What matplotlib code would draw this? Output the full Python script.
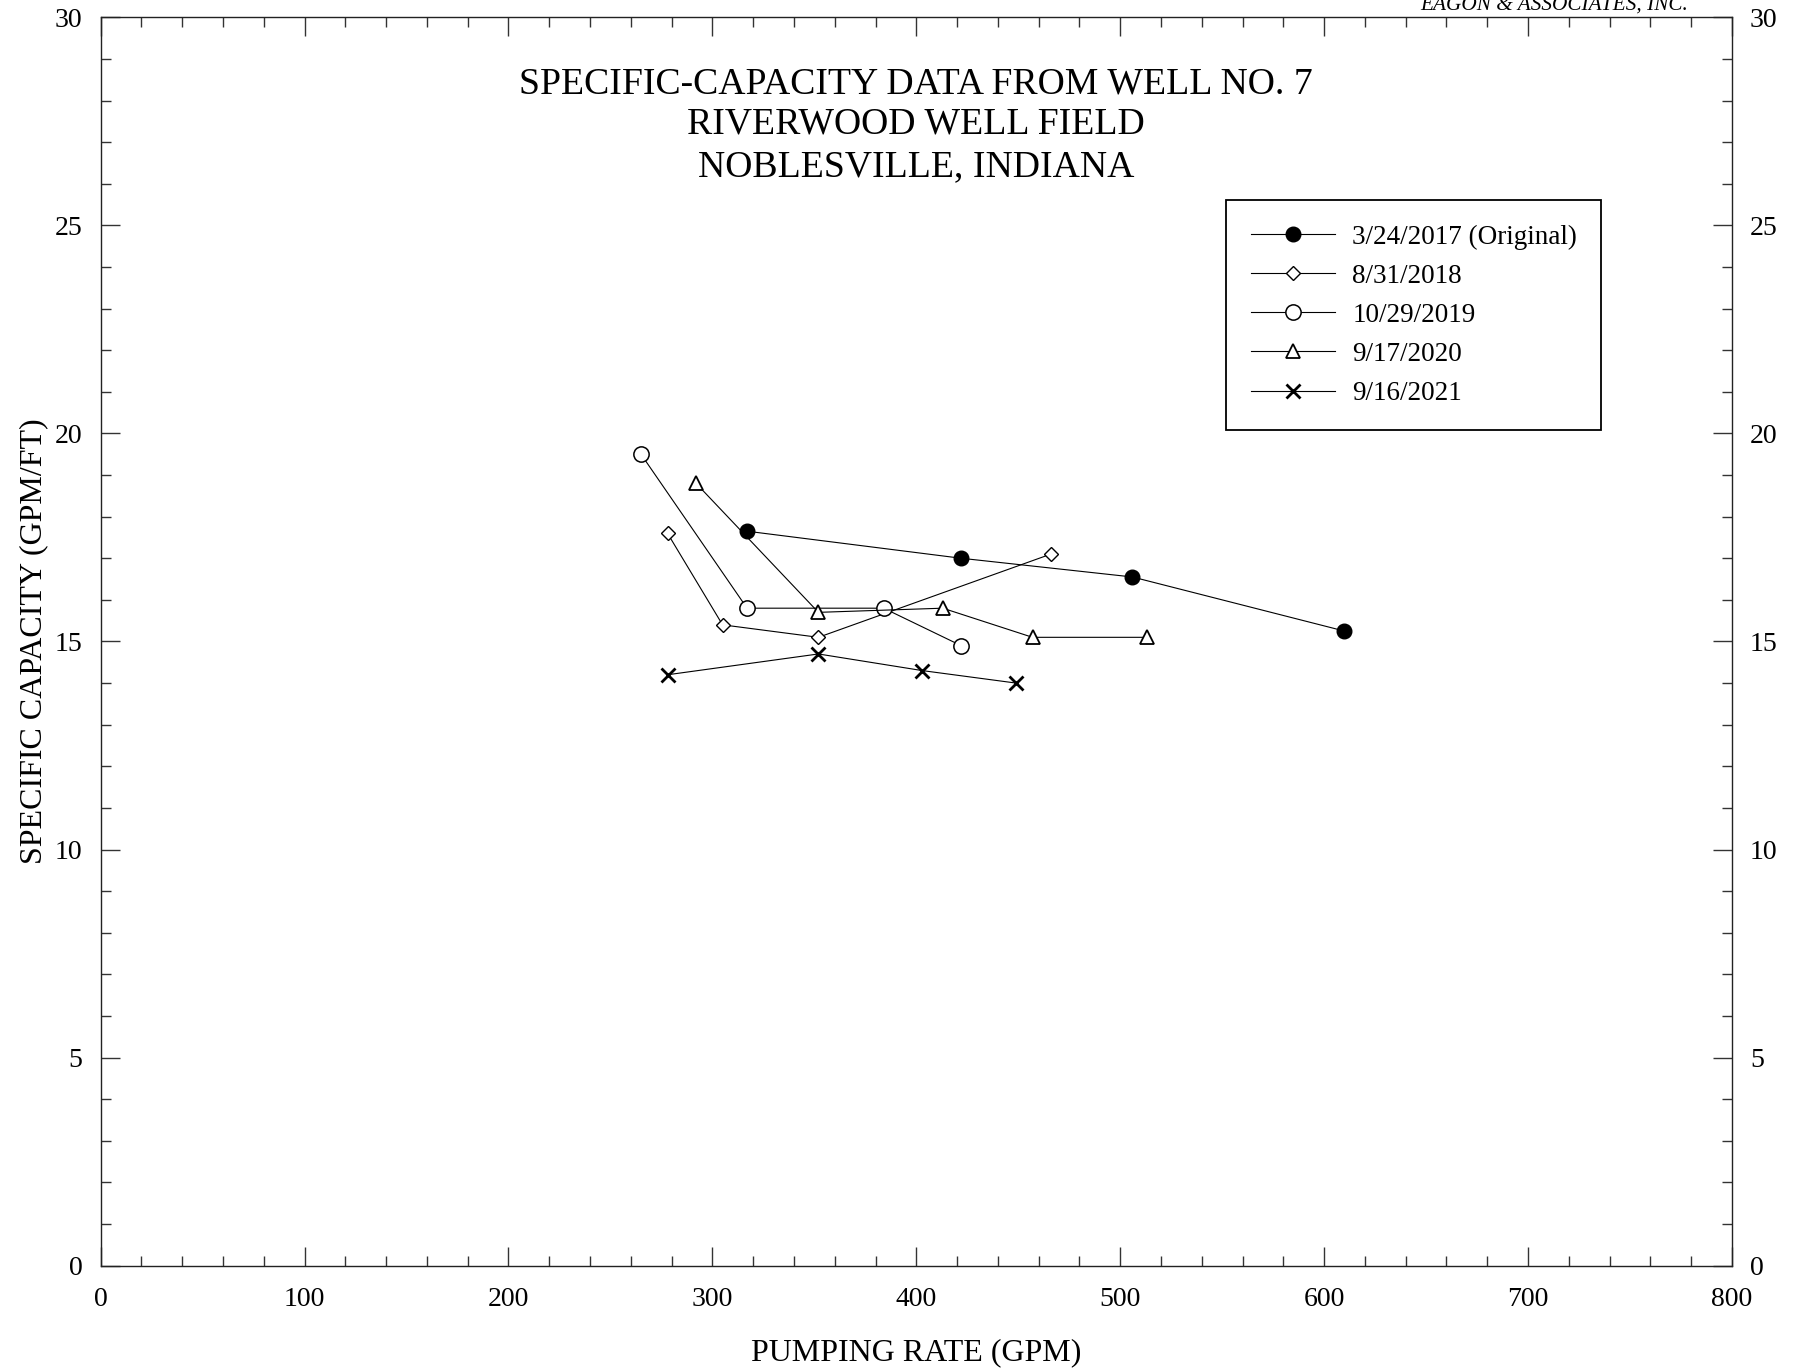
import matplotlib
matplotlib.use("Agg")
import matplotlib.pyplot as plt
from matplotlib.ticker import MultipleLocator

plt.rcParams['font.family'] = ['Liberation Serif', 'DejaVu Serif']

# ---- data ----
labels = ["3/24/2017 (Original)", "8/31/2018", "10/29/2019", "9/17/2020", "9/16/2021"]
rate_2017 = [317, 422, 506, 610]
sc_2017 = [17.65, 17.0, 16.55, 15.25]
rate_2018 = [278, 305, 352, 466]
sc_2018 = [17.6, 15.4, 15.1, 17.1]
rate_2019 = [265, 317, 384, 422]
sc_2019 = [19.5, 15.8, 15.8, 14.9]
rate_2020 = [292, 352, 413, 457, 513]
sc_2020 = [18.8, 15.7, 15.8, 15.1, 15.1]
rate_2021 = [278, 352, 403, 449]
sc_2021 = [14.2, 14.7, 14.3, 14.0]

title_lines = ["SPECIFIC-CAPACITY DATA FROM WELL NO. 7",
               "RIVERWOOD WELL FIELD",
               "NOBLESVILLE, INDIANA"]

fig = plt.figure(figsize=(17.94, 13.72), dpi=100)
ax = fig.add_axes([0.0561, 0.0775, 0.9093, 0.9099])

lw = 0.8
ax.plot(rate_2017, sc_2017, color='black', lw=lw, marker='o', ms=10.5,
        mfc='black', mec='black', label=labels[0])
ax.plot(rate_2018, sc_2018, color='black', lw=lw, marker='D', ms=7.5,
        mfc='white', mec='black', mew=1.0, label=labels[1])
ax.plot(rate_2019, sc_2019, color='black', lw=lw, marker='o', ms=11,
        mfc='white', mec='black', mew=1.1, label=labels[2])
ax.plot(rate_2020, sc_2020, color='black', lw=lw, marker='^', ms=10,
        mfc='white', mec='black', mew=1.3, label=labels[3])
ax.plot(rate_2021, sc_2021, color='black', lw=lw, marker='x', ms=10.5,
        mec='black', mew=2.0, label=labels[4])

ax.set_xlim(0, 800)
ax.set_ylim(0, 30)
ax.xaxis.set_major_locator(MultipleLocator(100))
ax.xaxis.set_minor_locator(MultipleLocator(20))
ax.yaxis.set_major_locator(MultipleLocator(5))
ax.yaxis.set_minor_locator(MultipleLocator(1))
ax.tick_params(which='both', direction='in', top=True, right=True,
               labelright=True, color='#333333', width=1.0)
ax.tick_params(which='major', length=14, labelsize=20)
ax.tick_params(which='minor', length=7)
ax.tick_params(axis='x', which='major', pad=15)
ax.tick_params(axis='y', which='major', pad=13)
for s in ax.spines.values():
    s.set_linewidth(1.0)
    s.set_color('#222222')

ax.set_xlabel("PUMPING RATE (GPM)", fontsize=23, labelpad=19)
ax.set_ylabel("SPECIFIC CAPACITY (GPM/FT)", fontsize=23, labelpad=5)

ys = [0.946, 0.914, 0.880]
for t, y in zip(title_lines, ys):
    ax.text(0.5, y, t, transform=ax.transAxes, ha='center', va='center',
            fontsize=27.2)

fig.text(0.941, 0.9934, "EAGON & ASSOCIATES, INC.", ha='right',
         va='baseline', fontsize=15.3, style='italic')

leg = ax.legend(loc='upper left', bbox_to_anchor=(0.690, 0.8535),
                fontsize=19.5, frameon=True, fancybox=False, framealpha=1,
                edgecolor='black', handlelength=3.1, handletextpad=0.65,
                labelspacing=0.52, borderpad=0.9, borderaxespad=0)
leg.get_frame().set_linewidth(1.3)

fig.savefig("out.png", dpi=100)
